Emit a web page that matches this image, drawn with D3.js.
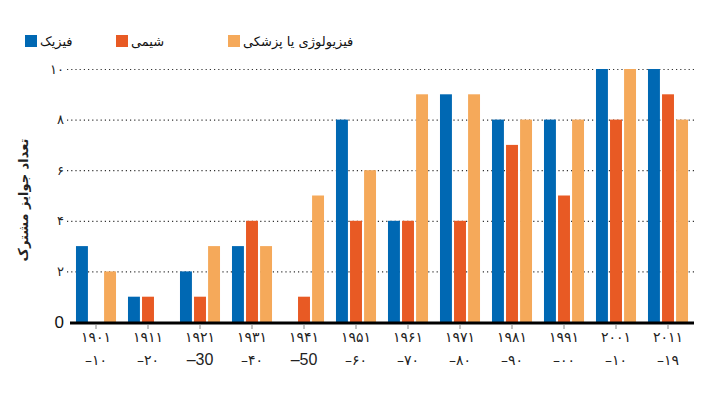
<!DOCTYPE html>
<html>
<head>
<meta charset="utf-8">
<script src="https://cdn.jsdelivr.net/npm/d3@7"></script>
<style>
  body { margin: 0; background: #fff; }
  svg { display: block; font-family: "DejaVu Sans", sans-serif; }
</style>
</head>
<body>
<div id="chart"></div>
<script>
// decades (two label rows under each group)
var yearsTop = ["۱۹۰۱", "۱۹۱۱", "۱۹۲۱", "۱۹۳۱", "۱۹۴۱", "۱۹۵۱", "۱۹۶۱", "۱۹۷۱", "۱۹۸۱", "۱۹۹۱", "۲۰۰۱", "۲۰۱۱"];
var yearsBottom = ["–۱۰", "–۲۰", "–30", "–۴۰", "–50", "–۶۰", "–۷۰", "–۸۰", "–۹۰", "–۰۰", "–۱۰", "–۱۹"];

// shared prizes per decade
var physics = [3, 1, 2, 3, 0, 8, 4, 9, 8, 8, 10, 10];
var chemistry = [0, 1, 1, 4, 1, 4, 4, 4, 7, 5, 8, 9];
var medicine = [2, 0, 3, 3, 5, 6, 9, 9, 8, 8, 10, 8];

var seriesNames = ["فیزیک", "شیمی", "فیزیولوژی یا پزشکی"];
var colors = ["#0068b3", "#e85a24", "#f5a95a"];
var yTicks = [2, 4, 6, 8, 10];
var yTickLabels = ["۲", "۴", "۶", "۸", "۱۰"];

var width = 720, height = 396;
var svg = d3.select("#chart").append("svg")
    .attr("width", width)
    .attr("height", height);

var series = [physics, chemistry, medicine];

var x = d3.scaleBand()
    .domain(d3.range(yearsTop.length))
    .range([70, 694])
    .paddingInner(0.23)
    .paddingOuter(0.115);

var xs = d3.scaleBand()
    .domain(d3.range(series.length))
    .range([0, x.bandwidth()])
    .paddingInner(0.15);

var y = d3.scaleLinear().domain([0, 10]).range([322, 69]);

// dotted grid lines
svg.append("g").selectAll("line")
    .data(yTicks)
    .join("line")
    .attr("x1", 67).attr("x2", 694)
    .attr("y1", function (d) { return y(d) + 0.5; })
    .attr("y2", function (d) { return y(d) + 0.5; })
    .attr("stroke", "#333")
    .attr("stroke-width", 1.2)
    .attr("stroke-dasharray", "1.2,3");

// y tick labels
svg.append("g").selectAll("text")
    .data(yTicks)
    .join("text")
    .attr("x", 64)
    .attr("y", function (d) { return y(d); })
    .attr("dy", "0.35em")
    .attr("text-anchor", "end")
    .attr("font-size", 13)
    .attr("letter-spacing", 1)
    .attr("fill", "#222")
    .text(function (d, i) { return yTickLabels[i]; });

svg.append("text")
    .attr("x", 64).attr("y", y(0))
    .attr("dy", "0.36em")
    .attr("text-anchor", "end")
    .attr("font-family", "Liberation Sans, sans-serif")
    .attr("font-size", 17)
    .attr("fill", "#111")
    .text("0");

// bars
var groups = svg.append("g").selectAll("g")
    .data(series)
    .join("g")
    .attr("fill", function (d, i) { return colors[i]; });

groups.each(function (vals, si) {
    d3.select(this).selectAll("rect")
        .data(vals)
        .join("rect")
        .attr("x", function (d, i) { return x(i) + xs(si); })
        .attr("width", xs.bandwidth())
        .attr("y", function (d) { return y(d); })
        .attr("height", function (d) { return y(0) - y(d); });
});

// x axis line and ticks
svg.append("line")
    .attr("x1", 70).attr("x2", 694)
    .attr("y1", y(0) + 1).attr("y2", y(0) + 1)
    .attr("stroke", "#000")
    .attr("stroke-width", 3);

svg.append("g").selectAll("line")
    .data(d3.range(yearsTop.length))
    .join("line")
    .attr("x1", function (i) { return x(i) + x.bandwidth() / 2; })
    .attr("x2", function (i) { return x(i) + x.bandwidth() / 2; })
    .attr("y1", y(0) + 2).attr("y2", y(0) + 7)
    .attr("stroke", "#888");

svg.append("g").selectAll("text")
    .data(yearsTop)
    .join("text")
    .attr("x", function (d, i) { return x(i) + x.bandwidth() / 2; })
    .attr("y", 342)
    .attr("text-anchor", "middle")
    .attr("font-size", 14)
    .attr("letter-spacing", 2)
    .attr("fill", "#222")
    .text(function (d) { return d; });

svg.append("g").selectAll("text")
    .data(yearsBottom)
    .join("text")
    .attr("x", function (d, i) { return x(i) + x.bandwidth() / 2; })
    .attr("y", 365)
    .attr("text-anchor", "middle")
    .attr("font-size", function (d) { return /[0-9]/.test(d) ? 16 : 14; })
    .attr("letter-spacing", function (d) { return /[0-9]/.test(d) ? 0 : 2; })
    .attr("font-family", function (d) { return /[0-9]/.test(d) ? "Liberation Sans, sans-serif" : null; })
    .attr("fill", "#222")
    .text(function (d) { return d; });

// y axis title
svg.append("text")
    .attr("transform", "translate(28,200) rotate(-90)")
    .attr("text-anchor", "middle")
    .attr("font-size", 13)
    .attr("font-weight", "bold")
    .attr("fill", "#222")
    .text("تعداد جوایز مشترک");

// legend
var legendX = [25, 116, 228];
var legend = svg.append("g").selectAll("g")
    .data(seriesNames)
    .join("g")
    .attr("transform", function (d, i) { return "translate(" + legendX[i] + ",35)"; });

legend.append("rect")
    .attr("width", 12).attr("height", 12)
    .attr("fill", function (d, i) { return colors[i]; });

legend.append("text")
    .attr("x", 15).attr("y", 6)
    .attr("dy", "0.35em")
    .attr("font-size", 13)
    .attr("fill", "#111")
    .text(function (d) { return d; });
</script>
</body>
</html>
